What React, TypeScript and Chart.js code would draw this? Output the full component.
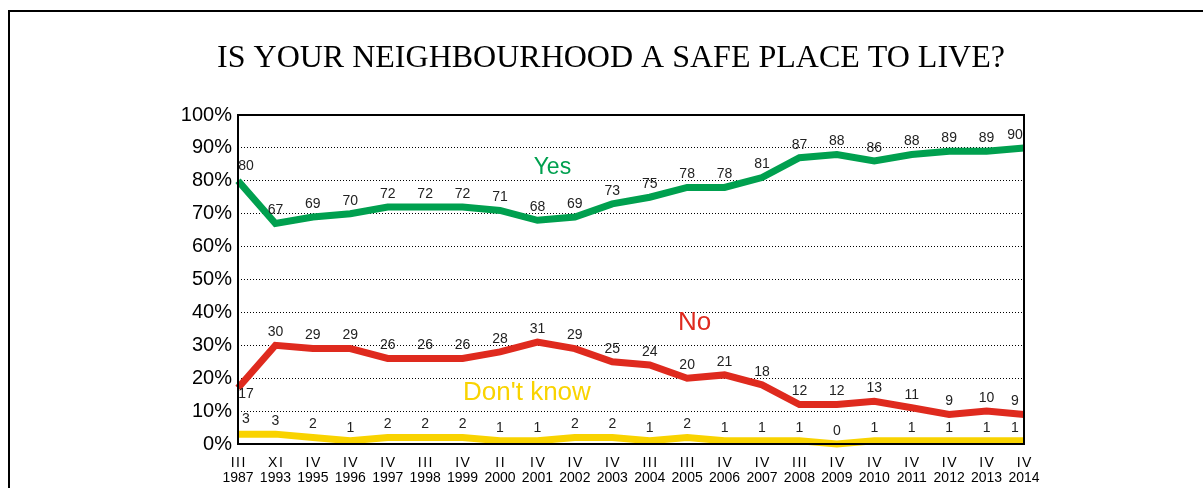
import React, { useEffect, useRef } from 'react';
import { Chart, registerables } from 'chart.js';

Chart.register(...registerables);

const quarters = ['III', 'XI', 'IV', 'IV', 'IV', 'III', 'IV', 'II', 'IV', 'IV', 'IV', 'III', 'III', 'IV', 'IV', 'III', 'IV', 'IV', 'IV', 'IV', 'IV', 'IV'];
const years = ['1987', '1993', '1995', '1996', '1997', '1998', '1999', '2000', '2001', '2002', '2003', '2004', '2005', '2006', '2007', '2008', '2009', '2010', '2011', '2012', '2013', '2014'];
const yesValues = [80, 67, 69, 70, 72, 72, 72, 71, 68, 69, 73, 75, 78, 78, 81, 87, 88, 86, 88, 89, 89, 90];
const noValues = [17, 30, 29, 29, 26, 26, 26, 28, 31, 29, 25, 24, 20, 21, 18, 12, 12, 13, 11, 9, 10, 9];
const dontKnowValues = [3, 3, 2, 1, 2, 2, 2, 1, 1, 2, 2, 1, 2, 1, 1, 1, 0, 1, 1, 1, 1, 1];
const seriesNames = ['Yes', 'No', "Don't know"];
const title = 'IS YOUR NEIGHBOURHOOD A SAFE PLACE TO LIVE?';

const GREEN = '#00A04F';
const RED = '#DF2A1E';
const YELLOW = '#F9D300';
const SANS = '"Liberation Sans", Arial, sans-serif';
const SERIF = '"Liberation Serif", "Times New Roman", serif';

const decorPlugin = {
  id: 'decor',
  beforeDraw(chart: any) {
    const ctx = chart.ctx;
    ctx.save();
    ctx.fillStyle = '#fff';
    ctx.fillRect(0, 0, chart.width, chart.height);
    ctx.strokeStyle = '#000';
    ctx.lineWidth = 2;
    ctx.strokeRect(9, 11, 1400, 700);
    ctx.fillStyle = '#000';
    ctx.font = `32px ${SERIF}`;
    ctx.textAlign = 'center';
    ctx.textBaseline = 'alphabetic';
    ctx.fillText(title, 611, 67);
    // x-axis two-line category labels
    const xs = chart.scales.x;
    const a = chart.chartArea;
    ctx.font = `14px ${SANS}`;
    quarters.forEach((q, i) => {
      const x = xs.getPixelForValue(i);
      (ctx as any).letterSpacing = '1.5px';
      ctx.fillText(q, x + 0.75, a.bottom + 22.5);
      (ctx as any).letterSpacing = '0px';
      ctx.fillText(years[i], x, a.bottom + 37.5);
    });
    ctx.restore();
  },
  afterDatasetsDraw(chart: any) {
    const ctx = chart.ctx;
    const xs = chart.scales.x;
    const ys = chart.scales.y;
    const a = chart.chartArea;
    ctx.save();
    ctx.strokeStyle = '#000';
    ctx.lineWidth = 2;
    ctx.strokeRect(a.left, a.top, a.right - a.left, a.bottom - a.top);
    ctx.font = `14px ${SANS}`;
    ctx.fillStyle = '#222';
    ctx.textAlign = 'center';
    ctx.textBaseline = 'middle';
    chart.data.datasets.forEach((ds: any, di: number) => {
      const meta = chart.getDatasetMeta(di);
      meta.data.forEach((pt: any, i: number) => {
        let x = pt.x;
        let y = pt.y - 13;
        if (i === 0) {
          x += 8;
          if (ds.firstLabelBelow) y = pt.y + 6;
          else y = pt.y - 15;
        }
        if (i === meta.data.length - 1) x -= 9;
        ctx.fillText(String(ds.data[i]), x, y);
      });
      ctx.save();
      ctx.font = `${ds.nameSize}px ${SANS}`;
      ctx.fillStyle = ds.borderColor;
      ctx.fillText(ds.label, xs.getPixelForValue(ds.nameAt[0]), ys.getPixelForValue(ds.nameAt[1]));
      ctx.restore();
    });
    ctx.restore();
  },
};

export default function App() {
  const ref = useRef<HTMLCanvasElement>(null);
  useEffect(() => {
    if (!ref.current) return;
    const labels = quarters.map((q, i) => q + ' ' + years[i]);
    const chart = new Chart(ref.current, {
      type: 'line',
      data: {
        labels,
        datasets: [
          { label: seriesNames[0], data: yesValues, borderColor: GREEN, backgroundColor: GREEN, borderWidth: 7, pointRadius: 0, clip: false, nameAt: [8.4, 84], nameSize: 23 } as any,
          { label: seriesNames[1], data: noValues, borderColor: RED, backgroundColor: RED, borderWidth: 7, pointRadius: 0, clip: false, firstLabelBelow: true, nameAt: [12.2, 36.8], nameSize: 26 } as any,
          { label: seriesNames[2], data: dontKnowValues, borderColor: YELLOW, backgroundColor: YELLOW, borderWidth: 7, pointRadius: 0, clip: false, nameAt: [7.72, 15.5], nameSize: 26 } as any,
        ],
      },
      options: {
        responsive: true,
        maintainAspectRatio: false,
        animation: false,
        layout: { padding: { left: 0, right: 179, top: 115, bottom: 0 } },
        plugins: { legend: { display: false }, tooltip: { enabled: false }, title: { display: false } },
        scales: {
          x: {
            offset: false,
            grid: { display: false },
            border: { display: false },
            ticks: { display: false, autoSkip: false, maxRotation: 0 },
            afterFit: (s: any) => { s.height = 44; },
          },
          y: {
            min: 0,
            max: 100,
            grid: {
              drawTicks: false,
              color: (c: any) => (c.tick && (c.tick.value === 0 || c.tick.value === 100) ? 'rgba(0,0,0,0)' : '#000'),
              lineWidth: 1,
            },
            border: { display: false, dash: [1, 2] },
            ticks: { stepSize: 10, color: '#000', font: { family: SANS, size: 20 }, padding: 6, callback: (v: any) => v + '%' },
            afterFit: (s: any) => { s.width = 238; },
          },
        },
      },
      plugins: [decorPlugin],
    });
    return () => chart.destroy();
  }, []);
  return (
    <div style={{ position: 'fixed', left: 0, top: 0, width: 1203, height: 488, background: '#fff' }}>
      <canvas ref={ref} />
    </div>
  );
}
